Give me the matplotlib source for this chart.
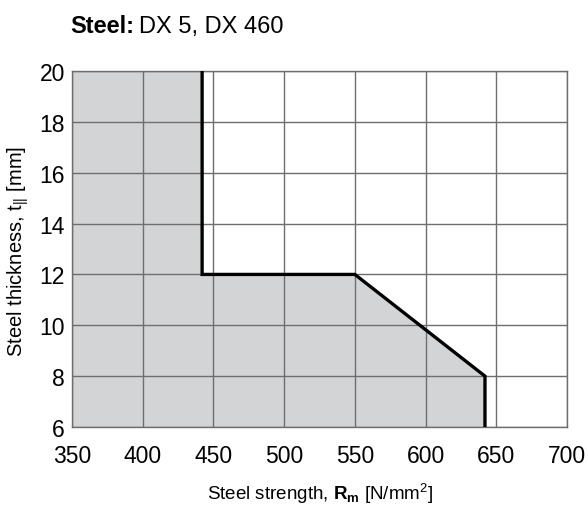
import matplotlib.pyplot as plt

plt.rcParams['font.family'] = ['Liberation Sans', 'DejaVu Sans']
plt.rcParams['mathtext.fontset'] = 'custom'
plt.rcParams['mathtext.rm'] = 'Liberation Sans'
plt.rcParams['mathtext.bf'] = 'Liberation Sans:bold'

# Grenzlinie der Stahlfestigkeit / Blechdicke
strength = [442, 442, 550, 642, 642]
thickness = [20, 12, 12, 8, 6]

x_ticks = [350, 400, 450, 500, 550, 600, 650, 700]
y_ticks = [6, 8, 10, 12, 14, 16, 18, 20]

W, H = 588, 506
fig = plt.figure(figsize=(W / 100, H / 100), dpi=100)
ax = fig.add_axes([72 / W, 78 / H, 495 / W, 356 / H])

# graue Fläche links der Grenzlinie
ax.fill([x_ticks[0]] + strength + [x_ticks[0]],
        [thickness[0]] + thickness + [thickness[-1]],
        color='#d3d4d6', lw=0, zorder=0)
ax.plot(strength, thickness, color='black', lw=2.4, zorder=3,
        solid_joinstyle='miter')

ax.set_xlim(x_ticks[0], x_ticks[-1])
ax.set_ylim(y_ticks[0], y_ticks[-1])
ax.set_xticks(x_ticks)
ax.set_yticks(y_ticks)
ax.grid(True, color='#6e6e6e', lw=1.0, zorder=1)
ax.set_axisbelow(False)
for s in ax.spines.values():
    s.set_color('#6e6e6e')
    s.set_linewidth(1.0)
ax.tick_params(length=0, labelsize=16.5, colors='black')
ax.tick_params(axis='x', pad=12)
ax.tick_params(axis='y', pad=5)

# Achsentitel
fig.text(320 / W, 1 - 500 / H, r'Steel strength, $\mathbf{R_m}$ [N/mm$^2$]',
         fontsize=13.5, ha='center', va='baseline')
fig.text(18 / W, 1 - 251 / H, r'Steel thickness, t$_{||}$ [mm]',
         fontsize=14.5, ha='center', va='center', rotation=90)

# Überschrift: fett + normal
t1 = fig.text(70 / W, 1 - 33 / H, 'Steel:', fontsize=17, fontweight='bold', va='baseline')
fig.canvas.draw()
bb = t1.get_window_extent()
fig.text((bb.x1 + 5) / W, 1 - 33 / H, 'DX 5, DX 460', fontsize=17, va='baseline')

fig.savefig('out.png', dpi=100)
